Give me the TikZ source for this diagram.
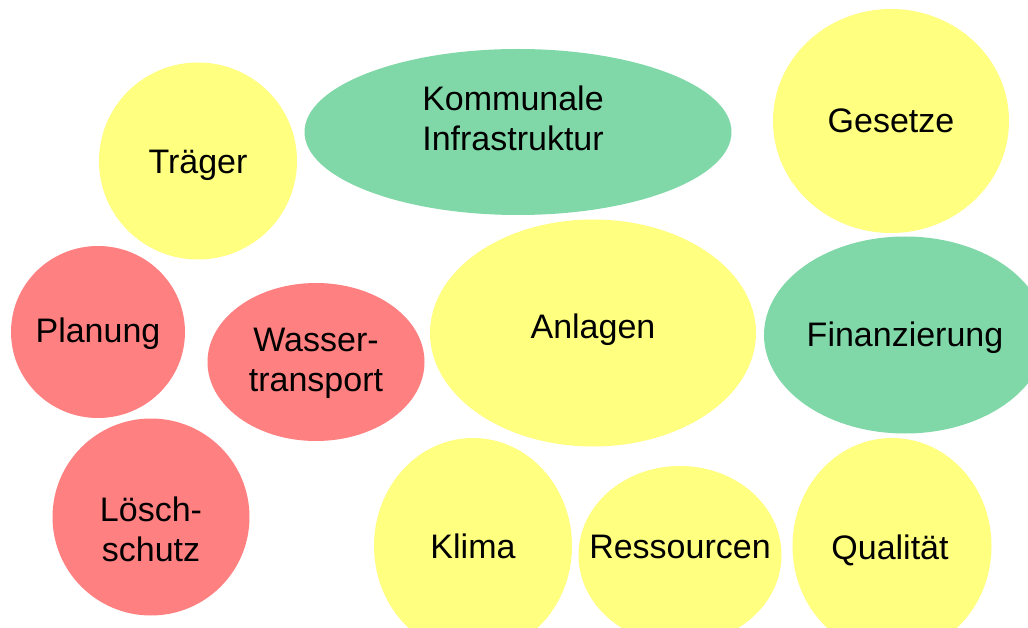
\documentclass[tikz,border=0pt]{standalone}
\usepackage{fontspec}
\setmainfont{Liberation Sans}
\usetikzlibrary{shapes.geometric}

\definecolor{blobyellow}{HTML}{FFFF80}
\definecolor{blobgreen}{HTML}{80D8A8}
\definecolor{blobred}{HTML}{FF8080}

\begin{document}
\begin{tikzpicture}[
    x=1pt, y=-1pt,
    blob/.style={ellipse, inner sep=0pt},
    blobtext/.style={align=center, inner sep=0pt,
        font=\fontsize{34}{40}\selectfont},
    txt/.style={label={[blobtext]center:#1}},
    yellowblob/.style={blob, fill=blobyellow},
    greenblob/.style={blob, fill=blobgreen},
    redblob/.style={blob, fill=blobred},
    size/.style 2 args={minimum width=#1pt, minimum height=#2pt}
]
    \useasboundingbox (0,0) rectangle (1028,628);

    % Top row
    \node[yellowblob, size={198}{197},
        label={[blobtext, yshift=-4pt]center:Träger}] (TRAEGER) at (198,161) {};
    \node[greenblob, size={427}{166},
        label={[blobtext, xshift=-5pt, yshift=14pt]center:{Kommunale\\Infrastruktur}}] (KOMMUNAL) at (518,132) {};
    \node[yellowblob, size={236}{224}, txt=Gesetze] (GESETZE) at (891,121) {};

    % Middle row
    \node[redblob, size={174}{172},
        label={[blobtext, yshift=-2pt]center:Planung}] (PLANUNG) at (98,332) {};
    \node[redblob, size={217}{158},
        label={[blobtext, yshift=-1pt]center:{Wasser-\\transport}}] (WASSER) at (316,362) {};
    \node[yellowblob, size={326}{227},
        label={[blobtext, yshift=3pt]center:Anlagen}] (ANLAGEN) at (593,333) {};
    \node[greenblob, size={282}{197},
        label={[blobtext, yshift=-3pt]center:Finanzierung}] (FINANZ) at (905,335) {};

    % Bottom row
    \node[redblob, size={197}{197},
        label={[blobtext, yshift=-12pt]center:{Lösch-\\schutz}}] (LOESCH) at (151,517) {};
    \node[yellowblob, size={198}{216}, txt=Klima] (KLIMA) at (473,546) {};
    \node[yellowblob, size={203}{178},
        label={[blobtext, yshift=8pt]center:Ressourcen}] (RESSOURCEN) at (680,555) {};
    \node[yellowblob, size={199}{216},
        label={[blobtext, xshift=-2pt, yshift=-4pt]center:Qualität}] (QUALITAET) at (892,546) {};

\end{tikzpicture}
\end{document}
